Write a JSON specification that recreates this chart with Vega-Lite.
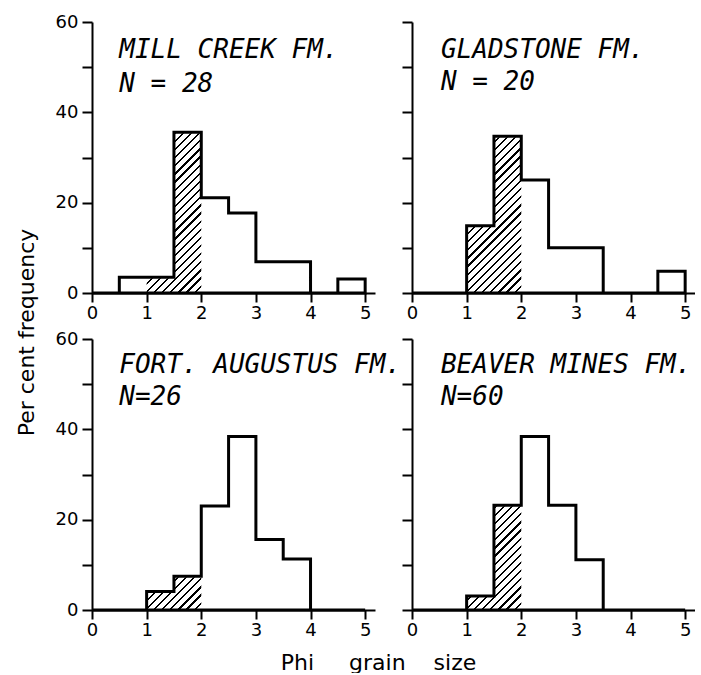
{
 "$schema": "https://vega.github.io/schema/vega-lite/v6.json",
 "padding": {"left": 15, "top": 13, "right": 0, "bottom": 0},
 "background": "white",
 "columns": 2,
 "spacing": {"row": 46, "column": 37},
 "bounds": "flush",
 "datasets": {
  "hist": [
   {"fm": "MILL CREEK FM.", "lo": 0, "hi": 0.5, "pct": 0},
   {"fm": "MILL CREEK FM.", "lo": 0.5, "hi": 1, "pct": 3.5},
   {"fm": "MILL CREEK FM.", "lo": 1, "hi": 1.5, "pct": 3.5},
   {"fm": "MILL CREEK FM.", "lo": 1.5, "hi": 2, "pct": 35.6},
   {"fm": "MILL CREEK FM.", "lo": 2, "hi": 2.5, "pct": 21.1},
   {"fm": "MILL CREEK FM.", "lo": 2.5, "hi": 3, "pct": 17.7},
   {"fm": "MILL CREEK FM.", "lo": 3, "hi": 3.5, "pct": 6.9},
   {"fm": "MILL CREEK FM.", "lo": 3.5, "hi": 4, "pct": 6.9},
   {"fm": "MILL CREEK FM.", "lo": 4, "hi": 4.5, "pct": 0},
   {"fm": "MILL CREEK FM.", "lo": 4.5, "hi": 5, "pct": 3.1},
   {"fm": "GLADSTONE FM.", "lo": 0, "hi": 0.5, "pct": 0},
   {"fm": "GLADSTONE FM.", "lo": 0.5, "hi": 1, "pct": 0},
   {"fm": "GLADSTONE FM.", "lo": 1, "hi": 1.5, "pct": 14.9},
   {"fm": "GLADSTONE FM.", "lo": 1.5, "hi": 2, "pct": 34.7},
   {"fm": "GLADSTONE FM.", "lo": 2, "hi": 2.5, "pct": 25.0},
   {"fm": "GLADSTONE FM.", "lo": 2.5, "hi": 3, "pct": 10.0},
   {"fm": "GLADSTONE FM.", "lo": 3, "hi": 3.5, "pct": 10.0},
   {"fm": "GLADSTONE FM.", "lo": 3.5, "hi": 4, "pct": 0},
   {"fm": "GLADSTONE FM.", "lo": 4, "hi": 4.5, "pct": 0},
   {"fm": "GLADSTONE FM.", "lo": 4.5, "hi": 5, "pct": 4.8},
   {"fm": "FORT. AUGUSTUS FM.", "lo": 0, "hi": 0.5, "pct": 0},
   {"fm": "FORT. AUGUSTUS FM.", "lo": 0.5, "hi": 1, "pct": 0},
   {"fm": "FORT. AUGUSTUS FM.", "lo": 1, "hi": 1.5, "pct": 4.1},
   {"fm": "FORT. AUGUSTUS FM.", "lo": 1.5, "hi": 2, "pct": 7.5},
   {"fm": "FORT. AUGUSTUS FM.", "lo": 2, "hi": 2.5, "pct": 23.0},
   {"fm": "FORT. AUGUSTUS FM.", "lo": 2.5, "hi": 3, "pct": 38.4},
   {"fm": "FORT. AUGUSTUS FM.", "lo": 3, "hi": 3.5, "pct": 15.6},
   {"fm": "FORT. AUGUSTUS FM.", "lo": 3.5, "hi": 4, "pct": 11.3},
   {"fm": "FORT. AUGUSTUS FM.", "lo": 4, "hi": 4.5, "pct": 0},
   {"fm": "FORT. AUGUSTUS FM.", "lo": 4.5, "hi": 5, "pct": 0},
   {"fm": "BEAVER MINES FM.", "lo": 0, "hi": 0.5, "pct": 0},
   {"fm": "BEAVER MINES FM.", "lo": 0.5, "hi": 1, "pct": 0},
   {"fm": "BEAVER MINES FM.", "lo": 1, "hi": 1.5, "pct": 3.1},
   {"fm": "BEAVER MINES FM.", "lo": 1.5, "hi": 2, "pct": 23.2},
   {"fm": "BEAVER MINES FM.", "lo": 2, "hi": 2.5, "pct": 38.4},
   {"fm": "BEAVER MINES FM.", "lo": 2.5, "hi": 3, "pct": 23.2},
   {"fm": "BEAVER MINES FM.", "lo": 3, "hi": 3.5, "pct": 11.1},
   {"fm": "BEAVER MINES FM.", "lo": 3.5, "hi": 4, "pct": 0},
   {"fm": "BEAVER MINES FM.", "lo": 4, "hi": 4.5, "pct": 0},
   {"fm": "BEAVER MINES FM.", "lo": 4.5, "hi": 5, "pct": 0}
  ]
 },
 "concat": [
  {
   "width": 283, "height": 271,
   "layer": [
    {"data": {"values": [{}]}, "mark": {"type": "rect", "stroke": null, "fill": {"gradient": "linear", "x1": 0, "y1": 0, "x2": 0.2328, "y2": 1.1547, "stops": [
   {"offset": 0, "color": "#000"}, {"offset": 0.007, "color": "#000"}, {"offset": 0.007, "color": "#fff"}, {"offset": 0.025, "color": "#fff"},
   {"offset": 0.025, "color": "#000"}, {"offset": 0.032, "color": "#000"}, {"offset": 0.032, "color": "#fff"}, {"offset": 0.05, "color": "#fff"},
   {"offset": 0.05, "color": "#000"}, {"offset": 0.057, "color": "#000"}, {"offset": 0.057, "color": "#fff"}, {"offset": 0.075, "color": "#fff"},
   {"offset": 0.075, "color": "#000"}, {"offset": 0.082, "color": "#000"}, {"offset": 0.082, "color": "#fff"}, {"offset": 0.1, "color": "#fff"},
   {"offset": 0.1, "color": "#000"}, {"offset": 0.107, "color": "#000"}, {"offset": 0.107, "color": "#fff"}, {"offset": 0.125, "color": "#fff"},
   {"offset": 0.125, "color": "#000"}, {"offset": 0.132, "color": "#000"}, {"offset": 0.132, "color": "#fff"}, {"offset": 0.15, "color": "#fff"},
   {"offset": 0.15, "color": "#000"}, {"offset": 0.157, "color": "#000"}, {"offset": 0.157, "color": "#fff"}, {"offset": 0.175, "color": "#fff"},
   {"offset": 0.175, "color": "#000"}, {"offset": 0.182, "color": "#000"}, {"offset": 0.182, "color": "#fff"}, {"offset": 0.2, "color": "#fff"},
   {"offset": 0.2, "color": "#000"}, {"offset": 0.207, "color": "#000"}, {"offset": 0.207, "color": "#fff"}, {"offset": 0.225, "color": "#fff"},
   {"offset": 0.225, "color": "#000"}, {"offset": 0.232, "color": "#000"}, {"offset": 0.232, "color": "#fff"}, {"offset": 0.25, "color": "#fff"},
   {"offset": 0.25, "color": "#000"}, {"offset": 0.257, "color": "#000"}, {"offset": 0.257, "color": "#fff"}, {"offset": 0.275, "color": "#fff"},
   {"offset": 0.275, "color": "#000"}, {"offset": 0.282, "color": "#000"}, {"offset": 0.282, "color": "#fff"}, {"offset": 0.3, "color": "#fff"},
   {"offset": 0.3, "color": "#000"}, {"offset": 0.307, "color": "#000"}, {"offset": 0.307, "color": "#fff"}, {"offset": 0.325, "color": "#fff"},
   {"offset": 0.325, "color": "#000"}, {"offset": 0.332, "color": "#000"}, {"offset": 0.332, "color": "#fff"}, {"offset": 0.35, "color": "#fff"},
   {"offset": 0.35, "color": "#000"}, {"offset": 0.357, "color": "#000"}, {"offset": 0.357, "color": "#fff"}, {"offset": 0.375, "color": "#fff"},
   {"offset": 0.375, "color": "#000"}, {"offset": 0.382, "color": "#000"}, {"offset": 0.382, "color": "#fff"}, {"offset": 0.4, "color": "#fff"},
   {"offset": 0.4, "color": "#000"}, {"offset": 0.407, "color": "#000"}, {"offset": 0.407, "color": "#fff"}, {"offset": 0.425, "color": "#fff"},
   {"offset": 0.425, "color": "#000"}, {"offset": 0.432, "color": "#000"}, {"offset": 0.432, "color": "#fff"}, {"offset": 0.45, "color": "#fff"},
   {"offset": 0.45, "color": "#000"}, {"offset": 0.457, "color": "#000"}, {"offset": 0.457, "color": "#fff"}, {"offset": 0.475, "color": "#fff"},
   {"offset": 0.475, "color": "#000"}, {"offset": 0.482, "color": "#000"}, {"offset": 0.482, "color": "#fff"}, {"offset": 0.5, "color": "#fff"},
   {"offset": 0.5, "color": "#000"}, {"offset": 0.507, "color": "#000"}, {"offset": 0.507, "color": "#fff"}, {"offset": 0.525, "color": "#fff"},
   {"offset": 0.525, "color": "#000"}, {"offset": 0.532, "color": "#000"}, {"offset": 0.532, "color": "#fff"}, {"offset": 0.55, "color": "#fff"},
   {"offset": 0.55, "color": "#000"}, {"offset": 0.557, "color": "#000"}, {"offset": 0.557, "color": "#fff"}, {"offset": 0.575, "color": "#fff"},
   {"offset": 0.575, "color": "#000"}, {"offset": 0.582, "color": "#000"}, {"offset": 0.582, "color": "#fff"}, {"offset": 0.6, "color": "#fff"},
   {"offset": 0.6, "color": "#000"}, {"offset": 0.607, "color": "#000"}, {"offset": 0.607, "color": "#fff"}, {"offset": 0.625, "color": "#fff"},
   {"offset": 0.625, "color": "#000"}, {"offset": 0.632, "color": "#000"}, {"offset": 0.632, "color": "#fff"}, {"offset": 0.65, "color": "#fff"},
   {"offset": 0.65, "color": "#000"}, {"offset": 0.657, "color": "#000"}, {"offset": 0.657, "color": "#fff"}, {"offset": 0.675, "color": "#fff"},
   {"offset": 0.675, "color": "#000"}, {"offset": 0.682, "color": "#000"}, {"offset": 0.682, "color": "#fff"}, {"offset": 0.7, "color": "#fff"},
   {"offset": 0.7, "color": "#000"}, {"offset": 0.707, "color": "#000"}, {"offset": 0.707, "color": "#fff"}, {"offset": 0.725, "color": "#fff"},
   {"offset": 0.725, "color": "#000"}, {"offset": 0.732, "color": "#000"}, {"offset": 0.732, "color": "#fff"}, {"offset": 0.75, "color": "#fff"},
   {"offset": 0.75, "color": "#000"}, {"offset": 0.757, "color": "#000"}, {"offset": 0.757, "color": "#fff"}, {"offset": 0.775, "color": "#fff"},
   {"offset": 0.775, "color": "#000"}, {"offset": 0.782, "color": "#000"}, {"offset": 0.782, "color": "#fff"}, {"offset": 0.8, "color": "#fff"},
   {"offset": 0.8, "color": "#000"}, {"offset": 0.807, "color": "#000"}, {"offset": 0.807, "color": "#fff"}, {"offset": 0.825, "color": "#fff"},
   {"offset": 0.825, "color": "#000"}, {"offset": 0.832, "color": "#000"}, {"offset": 0.832, "color": "#fff"}, {"offset": 0.85, "color": "#fff"},
   {"offset": 0.85, "color": "#000"}, {"offset": 0.857, "color": "#000"}, {"offset": 0.857, "color": "#fff"}, {"offset": 0.875, "color": "#fff"},
   {"offset": 0.875, "color": "#000"}, {"offset": 0.882, "color": "#000"}, {"offset": 0.882, "color": "#fff"}, {"offset": 0.9, "color": "#fff"},
   {"offset": 0.9, "color": "#000"}, {"offset": 0.907, "color": "#000"}, {"offset": 0.907, "color": "#fff"}, {"offset": 0.925, "color": "#fff"},
   {"offset": 0.925, "color": "#000"}, {"offset": 0.932, "color": "#000"}, {"offset": 0.932, "color": "#fff"}, {"offset": 0.95, "color": "#fff"},
   {"offset": 0.95, "color": "#000"}, {"offset": 0.957, "color": "#000"}, {"offset": 0.957, "color": "#fff"}, {"offset": 0.975, "color": "#fff"},
   {"offset": 0.975, "color": "#000"}, {"offset": 0.982, "color": "#000"}, {"offset": 0.982, "color": "#fff"}, {"offset": 1, "color": "#fff"}
  ]}},
     "encoding": {"x": {"datum": 1}, "x2": {"datum": 2}, "y": {"datum": 0}, "y2": {"datum": 60}}},
    {"data": {"name": "hist"}, "transform": [{"filter": "datum.fm === 'MILL CREEK FM.' && datum.lo >= 1 && datum.hi <= 2"}],
     "mark": {"type": "rect", "fill": "white", "stroke": "white", "strokeWidth": 2},
     "encoding": {"x": {"field": "lo", "type": "quantitative", "title": null}, "x2": {"field": "hi"}, "y": {"field": "pct", "type": "quantitative", "title": "Per cent frequency"}, "y2": {"datum": 60}}},
    {"data": {"name": "hist"}, "transform": [{"filter": "datum.fm === 'MILL CREEK FM.'"}, {"fold": ["lo", "hi"], "as": ["edge", "phi"]}],
     "mark": {"type": "area", "orient": "vertical", "fill": "white", "fillOpacity": 0, "stroke": "black", "strokeWidth": 3, "strokeJoin": "miter"},
     "encoding": {
      "x": {"field": "phi", "type": "quantitative", "scale": {"domain": [0, 5.18], "nice": false, "zero": false}, "axis": {"values": [0, 1, 2, 3, 4, 5], "format": "d", "title": null}},
      "y": {"field": "pct", "type": "quantitative", "stack": null, "scale": {"domain": [0, 60], "nice": false}, "axis": {"values": [0, 10, 20, 30, 40, 50, 60], "labelExpr": "datum.value % 20 === 0 ? datum.label : ''", "title": "Per cent frequency", "titleX": -66, "titleY": 310, "titleBaseline": "middle", "titleFontSize": 22}}
     }},
    {"data": {"values": [{}]}, "mark": {"type": "text", "text": ["MILL CREEK FM.", "N = 28"], "align": "left", "baseline": "alphabetic", "font": "DejaVu Sans Mono", "fontStyle": "italic", "fontSize": 26, "lineHeight": 33.5, "color": "black"},
     "encoding": {"x": {"datum": 0.5}, "y": {"datum": 52}}}
   ]
  },
  {
   "width": 283, "height": 271,
   "layer": [
    {"data": {"values": [{}]}, "mark": {"type": "rect", "stroke": null, "fill": {"gradient": "linear", "x1": 0, "y1": 0, "x2": 0.2328, "y2": 1.1547, "stops": [
   {"offset": 0, "color": "#000"}, {"offset": 0.007, "color": "#000"}, {"offset": 0.007, "color": "#fff"}, {"offset": 0.025, "color": "#fff"},
   {"offset": 0.025, "color": "#000"}, {"offset": 0.032, "color": "#000"}, {"offset": 0.032, "color": "#fff"}, {"offset": 0.05, "color": "#fff"},
   {"offset": 0.05, "color": "#000"}, {"offset": 0.057, "color": "#000"}, {"offset": 0.057, "color": "#fff"}, {"offset": 0.075, "color": "#fff"},
   {"offset": 0.075, "color": "#000"}, {"offset": 0.082, "color": "#000"}, {"offset": 0.082, "color": "#fff"}, {"offset": 0.1, "color": "#fff"},
   {"offset": 0.1, "color": "#000"}, {"offset": 0.107, "color": "#000"}, {"offset": 0.107, "color": "#fff"}, {"offset": 0.125, "color": "#fff"},
   {"offset": 0.125, "color": "#000"}, {"offset": 0.132, "color": "#000"}, {"offset": 0.132, "color": "#fff"}, {"offset": 0.15, "color": "#fff"},
   {"offset": 0.15, "color": "#000"}, {"offset": 0.157, "color": "#000"}, {"offset": 0.157, "color": "#fff"}, {"offset": 0.175, "color": "#fff"},
   {"offset": 0.175, "color": "#000"}, {"offset": 0.182, "color": "#000"}, {"offset": 0.182, "color": "#fff"}, {"offset": 0.2, "color": "#fff"},
   {"offset": 0.2, "color": "#000"}, {"offset": 0.207, "color": "#000"}, {"offset": 0.207, "color": "#fff"}, {"offset": 0.225, "color": "#fff"},
   {"offset": 0.225, "color": "#000"}, {"offset": 0.232, "color": "#000"}, {"offset": 0.232, "color": "#fff"}, {"offset": 0.25, "color": "#fff"},
   {"offset": 0.25, "color": "#000"}, {"offset": 0.257, "color": "#000"}, {"offset": 0.257, "color": "#fff"}, {"offset": 0.275, "color": "#fff"},
   {"offset": 0.275, "color": "#000"}, {"offset": 0.282, "color": "#000"}, {"offset": 0.282, "color": "#fff"}, {"offset": 0.3, "color": "#fff"},
   {"offset": 0.3, "color": "#000"}, {"offset": 0.307, "color": "#000"}, {"offset": 0.307, "color": "#fff"}, {"offset": 0.325, "color": "#fff"},
   {"offset": 0.325, "color": "#000"}, {"offset": 0.332, "color": "#000"}, {"offset": 0.332, "color": "#fff"}, {"offset": 0.35, "color": "#fff"},
   {"offset": 0.35, "color": "#000"}, {"offset": 0.357, "color": "#000"}, {"offset": 0.357, "color": "#fff"}, {"offset": 0.375, "color": "#fff"},
   {"offset": 0.375, "color": "#000"}, {"offset": 0.382, "color": "#000"}, {"offset": 0.382, "color": "#fff"}, {"offset": 0.4, "color": "#fff"},
   {"offset": 0.4, "color": "#000"}, {"offset": 0.407, "color": "#000"}, {"offset": 0.407, "color": "#fff"}, {"offset": 0.425, "color": "#fff"},
   {"offset": 0.425, "color": "#000"}, {"offset": 0.432, "color": "#000"}, {"offset": 0.432, "color": "#fff"}, {"offset": 0.45, "color": "#fff"},
   {"offset": 0.45, "color": "#000"}, {"offset": 0.457, "color": "#000"}, {"offset": 0.457, "color": "#fff"}, {"offset": 0.475, "color": "#fff"},
   {"offset": 0.475, "color": "#000"}, {"offset": 0.482, "color": "#000"}, {"offset": 0.482, "color": "#fff"}, {"offset": 0.5, "color": "#fff"},
   {"offset": 0.5, "color": "#000"}, {"offset": 0.507, "color": "#000"}, {"offset": 0.507, "color": "#fff"}, {"offset": 0.525, "color": "#fff"},
   {"offset": 0.525, "color": "#000"}, {"offset": 0.532, "color": "#000"}, {"offset": 0.532, "color": "#fff"}, {"offset": 0.55, "color": "#fff"},
   {"offset": 0.55, "color": "#000"}, {"offset": 0.557, "color": "#000"}, {"offset": 0.557, "color": "#fff"}, {"offset": 0.575, "color": "#fff"},
   {"offset": 0.575, "color": "#000"}, {"offset": 0.582, "color": "#000"}, {"offset": 0.582, "color": "#fff"}, {"offset": 0.6, "color": "#fff"},
   {"offset": 0.6, "color": "#000"}, {"offset": 0.607, "color": "#000"}, {"offset": 0.607, "color": "#fff"}, {"offset": 0.625, "color": "#fff"},
   {"offset": 0.625, "color": "#000"}, {"offset": 0.632, "color": "#000"}, {"offset": 0.632, "color": "#fff"}, {"offset": 0.65, "color": "#fff"},
   {"offset": 0.65, "color": "#000"}, {"offset": 0.657, "color": "#000"}, {"offset": 0.657, "color": "#fff"}, {"offset": 0.675, "color": "#fff"},
   {"offset": 0.675, "color": "#000"}, {"offset": 0.682, "color": "#000"}, {"offset": 0.682, "color": "#fff"}, {"offset": 0.7, "color": "#fff"},
   {"offset": 0.7, "color": "#000"}, {"offset": 0.707, "color": "#000"}, {"offset": 0.707, "color": "#fff"}, {"offset": 0.725, "color": "#fff"},
   {"offset": 0.725, "color": "#000"}, {"offset": 0.732, "color": "#000"}, {"offset": 0.732, "color": "#fff"}, {"offset": 0.75, "color": "#fff"},
   {"offset": 0.75, "color": "#000"}, {"offset": 0.757, "color": "#000"}, {"offset": 0.757, "color": "#fff"}, {"offset": 0.775, "color": "#fff"},
   {"offset": 0.775, "color": "#000"}, {"offset": 0.782, "color": "#000"}, {"offset": 0.782, "color": "#fff"}, {"offset": 0.8, "color": "#fff"},
   {"offset": 0.8, "color": "#000"}, {"offset": 0.807, "color": "#000"}, {"offset": 0.807, "color": "#fff"}, {"offset": 0.825, "color": "#fff"},
   {"offset": 0.825, "color": "#000"}, {"offset": 0.832, "color": "#000"}, {"offset": 0.832, "color": "#fff"}, {"offset": 0.85, "color": "#fff"},
   {"offset": 0.85, "color": "#000"}, {"offset": 0.857, "color": "#000"}, {"offset": 0.857, "color": "#fff"}, {"offset": 0.875, "color": "#fff"},
   {"offset": 0.875, "color": "#000"}, {"offset": 0.882, "color": "#000"}, {"offset": 0.882, "color": "#fff"}, {"offset": 0.9, "color": "#fff"},
   {"offset": 0.9, "color": "#000"}, {"offset": 0.907, "color": "#000"}, {"offset": 0.907, "color": "#fff"}, {"offset": 0.925, "color": "#fff"},
   {"offset": 0.925, "color": "#000"}, {"offset": 0.932, "color": "#000"}, {"offset": 0.932, "color": "#fff"}, {"offset": 0.95, "color": "#fff"},
   {"offset": 0.95, "color": "#000"}, {"offset": 0.957, "color": "#000"}, {"offset": 0.957, "color": "#fff"}, {"offset": 0.975, "color": "#fff"},
   {"offset": 0.975, "color": "#000"}, {"offset": 0.982, "color": "#000"}, {"offset": 0.982, "color": "#fff"}, {"offset": 1, "color": "#fff"}
  ]}},
     "encoding": {"x": {"datum": 1}, "x2": {"datum": 2}, "y": {"datum": 0}, "y2": {"datum": 60}}},
    {"data": {"name": "hist"}, "transform": [{"filter": "datum.fm === 'GLADSTONE FM.' && datum.lo >= 1 && datum.hi <= 2"}],
     "mark": {"type": "rect", "fill": "white", "stroke": "white", "strokeWidth": 2},
     "encoding": {"x": {"field": "lo", "type": "quantitative", "title": null}, "x2": {"field": "hi"}, "y": {"field": "pct", "type": "quantitative", "title": null}, "y2": {"datum": 60}}},
    {"data": {"name": "hist"}, "transform": [{"filter": "datum.fm === 'GLADSTONE FM.'"}, {"fold": ["lo", "hi"], "as": ["edge", "phi"]}],
     "mark": {"type": "area", "orient": "vertical", "fill": "white", "fillOpacity": 0, "stroke": "black", "strokeWidth": 3, "strokeJoin": "miter"},
     "encoding": {
      "x": {"field": "phi", "type": "quantitative", "scale": {"domain": [0, 5.18], "nice": false, "zero": false}, "axis": {"values": [0, 1, 2, 3, 4, 5], "format": "d", "title": null}},
      "y": {"field": "pct", "type": "quantitative", "stack": null, "scale": {"domain": [0, 60], "nice": false}, "axis": {"values": [0, 10, 20, 30, 40, 50, 60], "labels": false, "title": null}}
     }},
    {"data": {"values": [{}]}, "mark": {"type": "text", "text": ["GLADSTONE FM.", "N = 20"], "align": "left", "baseline": "alphabetic", "font": "DejaVu Sans Mono", "fontStyle": "italic", "fontSize": 26, "lineHeight": 32, "color": "black"},
     "encoding": {"x": {"datum": 0.53}, "y": {"datum": 52}}}
   ]
  },
  {
   "width": 283, "height": 271,
   "layer": [
    {"data": {"values": [{}]}, "mark": {"type": "rect", "stroke": null, "fill": {"gradient": "linear", "x1": 0, "y1": 0, "x2": 0.2328, "y2": 1.1547, "stops": [
   {"offset": 0, "color": "#000"}, {"offset": 0.007, "color": "#000"}, {"offset": 0.007, "color": "#fff"}, {"offset": 0.025, "color": "#fff"},
   {"offset": 0.025, "color": "#000"}, {"offset": 0.032, "color": "#000"}, {"offset": 0.032, "color": "#fff"}, {"offset": 0.05, "color": "#fff"},
   {"offset": 0.05, "color": "#000"}, {"offset": 0.057, "color": "#000"}, {"offset": 0.057, "color": "#fff"}, {"offset": 0.075, "color": "#fff"},
   {"offset": 0.075, "color": "#000"}, {"offset": 0.082, "color": "#000"}, {"offset": 0.082, "color": "#fff"}, {"offset": 0.1, "color": "#fff"},
   {"offset": 0.1, "color": "#000"}, {"offset": 0.107, "color": "#000"}, {"offset": 0.107, "color": "#fff"}, {"offset": 0.125, "color": "#fff"},
   {"offset": 0.125, "color": "#000"}, {"offset": 0.132, "color": "#000"}, {"offset": 0.132, "color": "#fff"}, {"offset": 0.15, "color": "#fff"},
   {"offset": 0.15, "color": "#000"}, {"offset": 0.157, "color": "#000"}, {"offset": 0.157, "color": "#fff"}, {"offset": 0.175, "color": "#fff"},
   {"offset": 0.175, "color": "#000"}, {"offset": 0.182, "color": "#000"}, {"offset": 0.182, "color": "#fff"}, {"offset": 0.2, "color": "#fff"},
   {"offset": 0.2, "color": "#000"}, {"offset": 0.207, "color": "#000"}, {"offset": 0.207, "color": "#fff"}, {"offset": 0.225, "color": "#fff"},
   {"offset": 0.225, "color": "#000"}, {"offset": 0.232, "color": "#000"}, {"offset": 0.232, "color": "#fff"}, {"offset": 0.25, "color": "#fff"},
   {"offset": 0.25, "color": "#000"}, {"offset": 0.257, "color": "#000"}, {"offset": 0.257, "color": "#fff"}, {"offset": 0.275, "color": "#fff"},
   {"offset": 0.275, "color": "#000"}, {"offset": 0.282, "color": "#000"}, {"offset": 0.282, "color": "#fff"}, {"offset": 0.3, "color": "#fff"},
   {"offset": 0.3, "color": "#000"}, {"offset": 0.307, "color": "#000"}, {"offset": 0.307, "color": "#fff"}, {"offset": 0.325, "color": "#fff"},
   {"offset": 0.325, "color": "#000"}, {"offset": 0.332, "color": "#000"}, {"offset": 0.332, "color": "#fff"}, {"offset": 0.35, "color": "#fff"},
   {"offset": 0.35, "color": "#000"}, {"offset": 0.357, "color": "#000"}, {"offset": 0.357, "color": "#fff"}, {"offset": 0.375, "color": "#fff"},
   {"offset": 0.375, "color": "#000"}, {"offset": 0.382, "color": "#000"}, {"offset": 0.382, "color": "#fff"}, {"offset": 0.4, "color": "#fff"},
   {"offset": 0.4, "color": "#000"}, {"offset": 0.407, "color": "#000"}, {"offset": 0.407, "color": "#fff"}, {"offset": 0.425, "color": "#fff"},
   {"offset": 0.425, "color": "#000"}, {"offset": 0.432, "color": "#000"}, {"offset": 0.432, "color": "#fff"}, {"offset": 0.45, "color": "#fff"},
   {"offset": 0.45, "color": "#000"}, {"offset": 0.457, "color": "#000"}, {"offset": 0.457, "color": "#fff"}, {"offset": 0.475, "color": "#fff"},
   {"offset": 0.475, "color": "#000"}, {"offset": 0.482, "color": "#000"}, {"offset": 0.482, "color": "#fff"}, {"offset": 0.5, "color": "#fff"},
   {"offset": 0.5, "color": "#000"}, {"offset": 0.507, "color": "#000"}, {"offset": 0.507, "color": "#fff"}, {"offset": 0.525, "color": "#fff"},
   {"offset": 0.525, "color": "#000"}, {"offset": 0.532, "color": "#000"}, {"offset": 0.532, "color": "#fff"}, {"offset": 0.55, "color": "#fff"},
   {"offset": 0.55, "color": "#000"}, {"offset": 0.557, "color": "#000"}, {"offset": 0.557, "color": "#fff"}, {"offset": 0.575, "color": "#fff"},
   {"offset": 0.575, "color": "#000"}, {"offset": 0.582, "color": "#000"}, {"offset": 0.582, "color": "#fff"}, {"offset": 0.6, "color": "#fff"},
   {"offset": 0.6, "color": "#000"}, {"offset": 0.607, "color": "#000"}, {"offset": 0.607, "color": "#fff"}, {"offset": 0.625, "color": "#fff"},
   {"offset": 0.625, "color": "#000"}, {"offset": 0.632, "color": "#000"}, {"offset": 0.632, "color": "#fff"}, {"offset": 0.65, "color": "#fff"},
   {"offset": 0.65, "color": "#000"}, {"offset": 0.657, "color": "#000"}, {"offset": 0.657, "color": "#fff"}, {"offset": 0.675, "color": "#fff"},
   {"offset": 0.675, "color": "#000"}, {"offset": 0.682, "color": "#000"}, {"offset": 0.682, "color": "#fff"}, {"offset": 0.7, "color": "#fff"},
   {"offset": 0.7, "color": "#000"}, {"offset": 0.707, "color": "#000"}, {"offset": 0.707, "color": "#fff"}, {"offset": 0.725, "color": "#fff"},
   {"offset": 0.725, "color": "#000"}, {"offset": 0.732, "color": "#000"}, {"offset": 0.732, "color": "#fff"}, {"offset": 0.75, "color": "#fff"},
   {"offset": 0.75, "color": "#000"}, {"offset": 0.757, "color": "#000"}, {"offset": 0.757, "color": "#fff"}, {"offset": 0.775, "color": "#fff"},
   {"offset": 0.775, "color": "#000"}, {"offset": 0.782, "color": "#000"}, {"offset": 0.782, "color": "#fff"}, {"offset": 0.8, "color": "#fff"},
   {"offset": 0.8, "color": "#000"}, {"offset": 0.807, "color": "#000"}, {"offset": 0.807, "color": "#fff"}, {"offset": 0.825, "color": "#fff"},
   {"offset": 0.825, "color": "#000"}, {"offset": 0.832, "color": "#000"}, {"offset": 0.832, "color": "#fff"}, {"offset": 0.85, "color": "#fff"},
   {"offset": 0.85, "color": "#000"}, {"offset": 0.857, "color": "#000"}, {"offset": 0.857, "color": "#fff"}, {"offset": 0.875, "color": "#fff"},
   {"offset": 0.875, "color": "#000"}, {"offset": 0.882, "color": "#000"}, {"offset": 0.882, "color": "#fff"}, {"offset": 0.9, "color": "#fff"},
   {"offset": 0.9, "color": "#000"}, {"offset": 0.907, "color": "#000"}, {"offset": 0.907, "color": "#fff"}, {"offset": 0.925, "color": "#fff"},
   {"offset": 0.925, "color": "#000"}, {"offset": 0.932, "color": "#000"}, {"offset": 0.932, "color": "#fff"}, {"offset": 0.95, "color": "#fff"},
   {"offset": 0.95, "color": "#000"}, {"offset": 0.957, "color": "#000"}, {"offset": 0.957, "color": "#fff"}, {"offset": 0.975, "color": "#fff"},
   {"offset": 0.975, "color": "#000"}, {"offset": 0.982, "color": "#000"}, {"offset": 0.982, "color": "#fff"}, {"offset": 1, "color": "#fff"}
  ]}},
     "encoding": {"x": {"datum": 1}, "x2": {"datum": 2}, "y": {"datum": 0}, "y2": {"datum": 60}}},
    {"data": {"name": "hist"}, "transform": [{"filter": "datum.fm === 'FORT. AUGUSTUS FM.' && datum.lo >= 1 && datum.hi <= 2"}],
     "mark": {"type": "rect", "fill": "white", "stroke": "white", "strokeWidth": 2},
     "encoding": {"x": {"field": "lo", "type": "quantitative", "title": "Phi\u00a0\u00a0\u00a0\u00a0\u00a0grain\u00a0\u00a0\u00a0\u00a0size"}, "x2": {"field": "hi"}, "y": {"field": "pct", "type": "quantitative", "title": null}, "y2": {"datum": 60}}},
    {"data": {"name": "hist"}, "transform": [{"filter": "datum.fm === 'FORT. AUGUSTUS FM.'"}, {"fold": ["lo", "hi"], "as": ["edge", "phi"]}],
     "mark": {"type": "area", "orient": "vertical", "fill": "white", "fillOpacity": 0, "stroke": "black", "strokeWidth": 3, "strokeJoin": "miter"},
     "encoding": {
      "x": {"field": "phi", "type": "quantitative", "scale": {"domain": [0, 5.18], "nice": false, "zero": false}, "axis": {"values": [0, 1, 2, 3, 4, 5], "format": "d", "title": "Phi\u00a0\u00a0\u00a0\u00a0\u00a0grain\u00a0\u00a0\u00a0\u00a0size", "titleX": 286, "titleY": 59, "titleBaseline": "alphabetic", "titleFontSize": 22}},
      "y": {"field": "pct", "type": "quantitative", "stack": null, "scale": {"domain": [0, 60], "nice": false}, "axis": {"values": [0, 10, 20, 30, 40, 50, 60], "labelExpr": "datum.value % 20 === 0 ? datum.label : ''", "title": null}}
     }},
    {"data": {"values": [{}]}, "mark": {"type": "text", "text": ["FORT. AUGUSTUS FM.", "N=26"], "align": "left", "baseline": "alphabetic", "font": "DejaVu Sans Mono", "fontStyle": "italic", "fontSize": 26, "lineHeight": 32, "color": "black"},
     "encoding": {"x": {"datum": 0.5}, "y": {"datum": 52.4}}}
   ]
  },
  {
   "width": 283, "height": 271,
   "layer": [
    {"data": {"values": [{}]}, "mark": {"type": "rect", "stroke": null, "fill": {"gradient": "linear", "x1": 0, "y1": 0, "x2": 0.2328, "y2": 1.1547, "stops": [
   {"offset": 0, "color": "#000"}, {"offset": 0.007, "color": "#000"}, {"offset": 0.007, "color": "#fff"}, {"offset": 0.025, "color": "#fff"},
   {"offset": 0.025, "color": "#000"}, {"offset": 0.032, "color": "#000"}, {"offset": 0.032, "color": "#fff"}, {"offset": 0.05, "color": "#fff"},
   {"offset": 0.05, "color": "#000"}, {"offset": 0.057, "color": "#000"}, {"offset": 0.057, "color": "#fff"}, {"offset": 0.075, "color": "#fff"},
   {"offset": 0.075, "color": "#000"}, {"offset": 0.082, "color": "#000"}, {"offset": 0.082, "color": "#fff"}, {"offset": 0.1, "color": "#fff"},
   {"offset": 0.1, "color": "#000"}, {"offset": 0.107, "color": "#000"}, {"offset": 0.107, "color": "#fff"}, {"offset": 0.125, "color": "#fff"},
   {"offset": 0.125, "color": "#000"}, {"offset": 0.132, "color": "#000"}, {"offset": 0.132, "color": "#fff"}, {"offset": 0.15, "color": "#fff"},
   {"offset": 0.15, "color": "#000"}, {"offset": 0.157, "color": "#000"}, {"offset": 0.157, "color": "#fff"}, {"offset": 0.175, "color": "#fff"},
   {"offset": 0.175, "color": "#000"}, {"offset": 0.182, "color": "#000"}, {"offset": 0.182, "color": "#fff"}, {"offset": 0.2, "color": "#fff"},
   {"offset": 0.2, "color": "#000"}, {"offset": 0.207, "color": "#000"}, {"offset": 0.207, "color": "#fff"}, {"offset": 0.225, "color": "#fff"},
   {"offset": 0.225, "color": "#000"}, {"offset": 0.232, "color": "#000"}, {"offset": 0.232, "color": "#fff"}, {"offset": 0.25, "color": "#fff"},
   {"offset": 0.25, "color": "#000"}, {"offset": 0.257, "color": "#000"}, {"offset": 0.257, "color": "#fff"}, {"offset": 0.275, "color": "#fff"},
   {"offset": 0.275, "color": "#000"}, {"offset": 0.282, "color": "#000"}, {"offset": 0.282, "color": "#fff"}, {"offset": 0.3, "color": "#fff"},
   {"offset": 0.3, "color": "#000"}, {"offset": 0.307, "color": "#000"}, {"offset": 0.307, "color": "#fff"}, {"offset": 0.325, "color": "#fff"},
   {"offset": 0.325, "color": "#000"}, {"offset": 0.332, "color": "#000"}, {"offset": 0.332, "color": "#fff"}, {"offset": 0.35, "color": "#fff"},
   {"offset": 0.35, "color": "#000"}, {"offset": 0.357, "color": "#000"}, {"offset": 0.357, "color": "#fff"}, {"offset": 0.375, "color": "#fff"},
   {"offset": 0.375, "color": "#000"}, {"offset": 0.382, "color": "#000"}, {"offset": 0.382, "color": "#fff"}, {"offset": 0.4, "color": "#fff"},
   {"offset": 0.4, "color": "#000"}, {"offset": 0.407, "color": "#000"}, {"offset": 0.407, "color": "#fff"}, {"offset": 0.425, "color": "#fff"},
   {"offset": 0.425, "color": "#000"}, {"offset": 0.432, "color": "#000"}, {"offset": 0.432, "color": "#fff"}, {"offset": 0.45, "color": "#fff"},
   {"offset": 0.45, "color": "#000"}, {"offset": 0.457, "color": "#000"}, {"offset": 0.457, "color": "#fff"}, {"offset": 0.475, "color": "#fff"},
   {"offset": 0.475, "color": "#000"}, {"offset": 0.482, "color": "#000"}, {"offset": 0.482, "color": "#fff"}, {"offset": 0.5, "color": "#fff"},
   {"offset": 0.5, "color": "#000"}, {"offset": 0.507, "color": "#000"}, {"offset": 0.507, "color": "#fff"}, {"offset": 0.525, "color": "#fff"},
   {"offset": 0.525, "color": "#000"}, {"offset": 0.532, "color": "#000"}, {"offset": 0.532, "color": "#fff"}, {"offset": 0.55, "color": "#fff"},
   {"offset": 0.55, "color": "#000"}, {"offset": 0.557, "color": "#000"}, {"offset": 0.557, "color": "#fff"}, {"offset": 0.575, "color": "#fff"},
   {"offset": 0.575, "color": "#000"}, {"offset": 0.582, "color": "#000"}, {"offset": 0.582, "color": "#fff"}, {"offset": 0.6, "color": "#fff"},
   {"offset": 0.6, "color": "#000"}, {"offset": 0.607, "color": "#000"}, {"offset": 0.607, "color": "#fff"}, {"offset": 0.625, "color": "#fff"},
   {"offset": 0.625, "color": "#000"}, {"offset": 0.632, "color": "#000"}, {"offset": 0.632, "color": "#fff"}, {"offset": 0.65, "color": "#fff"},
   {"offset": 0.65, "color": "#000"}, {"offset": 0.657, "color": "#000"}, {"offset": 0.657, "color": "#fff"}, {"offset": 0.675, "color": "#fff"},
   {"offset": 0.675, "color": "#000"}, {"offset": 0.682, "color": "#000"}, {"offset": 0.682, "color": "#fff"}, {"offset": 0.7, "color": "#fff"},
   {"offset": 0.7, "color": "#000"}, {"offset": 0.707, "color": "#000"}, {"offset": 0.707, "color": "#fff"}, {"offset": 0.725, "color": "#fff"},
   {"offset": 0.725, "color": "#000"}, {"offset": 0.732, "color": "#000"}, {"offset": 0.732, "color": "#fff"}, {"offset": 0.75, "color": "#fff"},
   {"offset": 0.75, "color": "#000"}, {"offset": 0.757, "color": "#000"}, {"offset": 0.757, "color": "#fff"}, {"offset": 0.775, "color": "#fff"},
   {"offset": 0.775, "color": "#000"}, {"offset": 0.782, "color": "#000"}, {"offset": 0.782, "color": "#fff"}, {"offset": 0.8, "color": "#fff"},
   {"offset": 0.8, "color": "#000"}, {"offset": 0.807, "color": "#000"}, {"offset": 0.807, "color": "#fff"}, {"offset": 0.825, "color": "#fff"},
   {"offset": 0.825, "color": "#000"}, {"offset": 0.832, "color": "#000"}, {"offset": 0.832, "color": "#fff"}, {"offset": 0.85, "color": "#fff"},
   {"offset": 0.85, "color": "#000"}, {"offset": 0.857, "color": "#000"}, {"offset": 0.857, "color": "#fff"}, {"offset": 0.875, "color": "#fff"},
   {"offset": 0.875, "color": "#000"}, {"offset": 0.882, "color": "#000"}, {"offset": 0.882, "color": "#fff"}, {"offset": 0.9, "color": "#fff"},
   {"offset": 0.9, "color": "#000"}, {"offset": 0.907, "color": "#000"}, {"offset": 0.907, "color": "#fff"}, {"offset": 0.925, "color": "#fff"},
   {"offset": 0.925, "color": "#000"}, {"offset": 0.932, "color": "#000"}, {"offset": 0.932, "color": "#fff"}, {"offset": 0.95, "color": "#fff"},
   {"offset": 0.95, "color": "#000"}, {"offset": 0.957, "color": "#000"}, {"offset": 0.957, "color": "#fff"}, {"offset": 0.975, "color": "#fff"},
   {"offset": 0.975, "color": "#000"}, {"offset": 0.982, "color": "#000"}, {"offset": 0.982, "color": "#fff"}, {"offset": 1, "color": "#fff"}
  ]}},
     "encoding": {"x": {"datum": 1}, "x2": {"datum": 2}, "y": {"datum": 0}, "y2": {"datum": 60}}},
    {"data": {"name": "hist"}, "transform": [{"filter": "datum.fm === 'BEAVER MINES FM.' && datum.lo >= 1 && datum.hi <= 2"}],
     "mark": {"type": "rect", "fill": "white", "stroke": "white", "strokeWidth": 2},
     "encoding": {"x": {"field": "lo", "type": "quantitative", "title": null}, "x2": {"field": "hi"}, "y": {"field": "pct", "type": "quantitative", "title": null}, "y2": {"datum": 60}}},
    {"data": {"name": "hist"}, "transform": [{"filter": "datum.fm === 'BEAVER MINES FM.'"}, {"fold": ["lo", "hi"], "as": ["edge", "phi"]}],
     "mark": {"type": "area", "orient": "vertical", "fill": "white", "fillOpacity": 0, "stroke": "black", "strokeWidth": 3, "strokeJoin": "miter"},
     "encoding": {
      "x": {"field": "phi", "type": "quantitative", "scale": {"domain": [0, 5.18], "nice": false, "zero": false}, "axis": {"values": [0, 1, 2, 3, 4, 5], "format": "d", "title": null}},
      "y": {"field": "pct", "type": "quantitative", "stack": null, "scale": {"domain": [0, 60], "nice": false}, "axis": {"values": [0, 10, 20, 30, 40, 50, 60], "labels": false, "title": null}}
     }},
    {"data": {"values": [{}]}, "mark": {"type": "text", "text": ["BEAVER MINES FM.", "N=60"], "align": "left", "baseline": "alphabetic", "font": "DejaVu Sans Mono", "fontStyle": "italic", "fontSize": 26, "lineHeight": 32, "color": "black"},
     "encoding": {"x": {"datum": 0.53}, "y": {"datum": 52.4}}}
   ]
  }
 ],
 "config": {
  "view": {"stroke": null},
  "font": "DejaVu Sans",
  "axis": {"domainColor": "black", "domainWidth": 2, "tickColor": "black", "tickWidth": 2, "labelColor": "black", "labelFont": "DejaVu Sans", "labelFontSize": 18, "labelFlush": false, "labelOverlap": false, "grid": false, "titleFont": "DejaVu Sans", "titleFontSize": 21, "titleFontWeight": "normal", "titleColor": "black"},
  "axisX": {"tickSize": 9, "labelPadding": 2},
  "axisY": {"tickSize": 10, "labelPadding": 4}
 }
}
